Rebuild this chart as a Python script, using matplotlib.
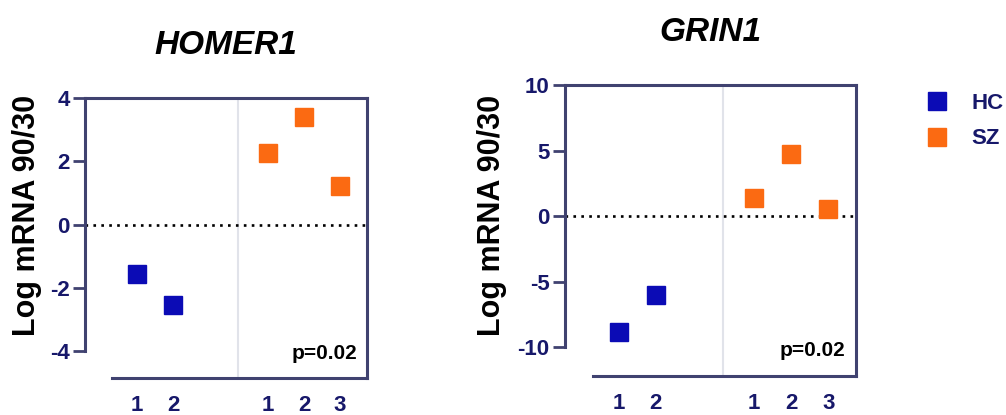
import matplotlib
matplotlib.use("Agg")
import matplotlib.pyplot as plt
from matplotlib.lines import Line2D

# ── Colours (Prism-like navy axes, blue/orange groups) ─────────
C_HC    = "#0b0bb5"
C_SZ    = "#fb6a12"
C_NAVY  = "#17186a"
C_SPINE = "#404270"
C_SEP   = "#e1e3ea"

plt.rcParams.update({
    "font.family":        ["Liberation Sans", "DejaVu Sans"],
    "font.weight":        "bold",
    "axes.unicode_minus": False,
})

# ── Data ───────────────────────────────────────────────────────
GROUPS      = ["HC", "SZ"]
HC_X        = [1, 2]
SZ_X        = [4.65, 5.65, 6.65]
TICK_LABELS = ["1", "2", "1", "2", "3"]

HOMER1_HC     = [-1.57, -2.55]
HOMER1_SZ     = [2.26, 3.40, 1.22]
HOMER1_YTICKS = [-4, -2, 0, 2, 4]

GRIN1_HC     = [-8.85, -6.0]
GRIN1_SZ     = [1.40, 4.73, 0.53]
GRIN1_YTICKS = [-10, -5, 0, 5, 10]

P_TEXT = "p=0.02"
YLABEL = "Log mRNA 90/30"

W, H = 1006, 415


def panel(ax, title, hc, sz, yticks, ybottom):
    ax.set_xlim(-0.45, 7.4)
    ax.set_ylim(ybottom, yticks[-1])

    ax.axvline(3.82, color=C_SEP, lw=1.5, zorder=0)
    ax.axhline(0, color="black", lw=1.9, ls=(0, (1, 2)), zorder=1)
    ax.plot(HC_X, hc, ls="none", marker="s", ms=12.5, color=C_HC, zorder=3)
    ax.plot(SZ_X, sz, ls="none", marker="s", ms=12.5, color=C_SZ, zorder=3)

    for s in ax.spines.values():
        s.set_color(C_SPINE)
        s.set_linewidth(2.2)
    ax.spines["left"].set_bounds(yticks[0], yticks[-1])
    ax.spines["bottom"].set_bounds(0.3, 7.4)

    ax.set_yticks(yticks)
    ax.set_xticks(HC_X + SZ_X, TICK_LABELS)
    ax.tick_params(axis="y", length=9, width=2, color=C_SPINE, pad=2,
                   labelsize=16, labelcolor=C_NAVY)
    ax.tick_params(axis="x", length=0, pad=12, labelsize=16,
                   labelcolor=C_NAVY)
    ax.set_title(title, fontsize=24, fontstyle="italic",
                 fontweight="bold", pad=32)
    ax.text(0.965, 0.068, P_TEXT, transform=ax.transAxes, ha="right",
            va="baseline", fontsize=15)


fig = plt.figure(figsize=(W / 100, H / 100), dpi=100)

ax1 = fig.add_axes([85 / W, 1 - 378 / H, 282 / W, 280 / H])
panel(ax1, "HOMER1", HOMER1_HC, HOMER1_SZ, HOMER1_YTICKS, -4.85)

ax2 = fig.add_axes([565 / W, 1 - 376 / H, 291 / W, 291 / H])
panel(ax2, "GRIN1", GRIN1_HC, GRIN1_SZ, GRIN1_YTICKS, -12.2)

for x in (27, 492):
    fig.text(x / W, 1 - 215 / H, YLABEL, rotation=90, ha="center",
             va="center", fontsize=22)

handles = [Line2D([], [], ls="none", marker="s", ms=13, color=c)
           for c in (C_HC, C_SZ)]
fig.legend(handles, GROUPS, loc="upper left",
           bbox_to_anchor=(926 / W, 1 - 93 / H), frameon=False,
           fontsize=16, handlelength=1.0, handletextpad=1.05,
           labelspacing=0.65, borderpad=0, borderaxespad=0,
           labelcolor=C_NAVY)

fig.savefig("out.png", dpi=100)
